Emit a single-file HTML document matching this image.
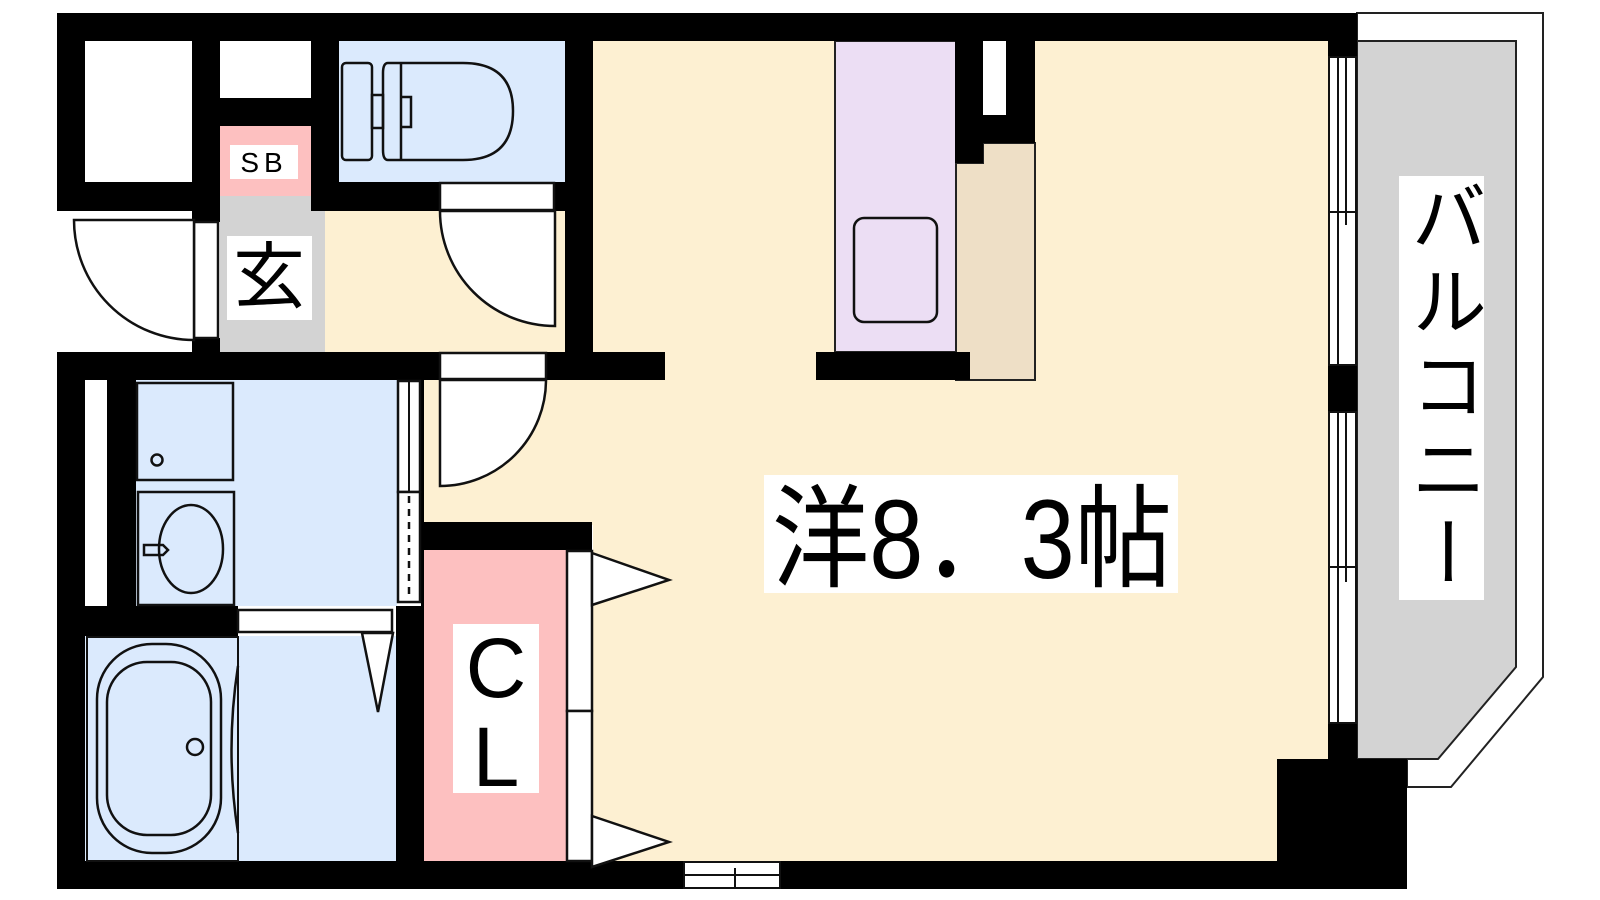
<!DOCTYPE html>
<html><head><meta charset="utf-8"><style>
html,body{margin:0;padding:0;background:#fff;width:1600px;height:900px;overflow:hidden}
svg{position:absolute;left:0;top:0}
.vt{position:absolute;left:1399px;top:176px;width:85px;height:424px;background:#fff;writing-mode:vertical-rl;font-family:"Liberation Sans","Noto Sans CJK JP",sans-serif;font-size:76px;line-height:85px;text-align:center;letter-spacing:8px;color:#000;display:flex;align-items:center;justify-content:center}
</style></head><body>
<svg width="1600" height="900" viewBox="0 0 1600 900" xmlns="http://www.w3.org/2000/svg" font-family="Liberation Sans, Noto Sans CJK JP, sans-serif">
<!-- balcony -->
<polygon points="1357,13 1543,13 1543,677 1451,787 1407,787 1407,759 1357,759" fill="#fff" stroke="#222" stroke-width="2"/>
<polygon points="1357,41 1516,41 1516,667 1438,759 1357,759" fill="#d3d3d3" stroke="#222" stroke-width="2"/>
<!-- floors -->
<rect x="593" y="41" width="735" height="820" fill="#fdf0d2"/>
<rect x="421" y="380" width="175" height="145" fill="#fdf0d2"/>
<rect x="325" y="211" width="240" height="141" fill="#fdf0d2"/>
<rect x="339" y="41" width="226" height="141" fill="#dbeafd"/>
<rect x="220" y="196" width="105" height="156" fill="#d3d3d3"/>
<rect x="220" y="126" width="91" height="70" fill="#fdc0c0"/>
<rect x="136" y="380" width="261" height="226" fill="#dbeafd"/>
<rect x="85" y="636" width="311" height="225" fill="#dbeafd"/>
<rect x="424" y="550" width="142" height="311" fill="#fdc0c0"/>
<rect x="835" y="41" width="121" height="311" fill="#ecdef4" stroke="#222" stroke-width="2"/>
<polygon points="956,163 983,163 983,143 1035,143 1035,380 956,380" fill="#eedfc6" stroke="#222" stroke-width="2"/>
<rect x="854" y="218" width="83" height="104" rx="10" fill="none" stroke="#111" stroke-width="2.5"/>
<!-- walls -->
<g fill="#000">
<rect x="57" y="13" width="1300" height="28"/>
<rect x="57" y="13" width="28" height="198"/>
<rect x="57" y="182" width="135" height="29"/>
<rect x="192" y="13" width="28" height="209"/>
<rect x="192" y="338" width="28" height="14"/>
<rect x="220" y="98" width="91" height="28"/>
<rect x="311" y="13" width="28" height="198"/>
<rect x="311" y="182" width="129" height="29"/>
<rect x="554" y="182" width="11" height="29"/>
<rect x="565" y="13" width="28" height="367"/>
<rect x="57" y="352" width="383" height="28"/>
<rect x="546" y="352" width="119" height="28"/>
<rect x="816" y="352" width="154" height="28"/>
<rect x="955" y="41" width="28" height="122"/>
<rect x="983" y="115" width="23" height="28"/>
<rect x="1006" y="41" width="29" height="102"/>
<rect x="57" y="352" width="28" height="537"/>
<rect x="107" y="380" width="29" height="226"/>
<rect x="57" y="606" width="181" height="30"/>
<rect x="396" y="606" width="28" height="283"/>
<rect x="421" y="380" width="3" height="226"/>
<rect x="424" y="522" width="168" height="28"/>
<rect x="57" y="861" width="1350" height="28"/>
<rect x="1277" y="759" width="130" height="130"/>
<rect x="1328" y="41" width="29" height="16"/>
<rect x="1328" y="365" width="29" height="47"/>
<rect x="1328" y="723" width="29" height="36"/>
</g>
<!-- white voids -->
<rect x="85" y="41" width="107" height="141" fill="#fff"/>
<rect x="220" y="41" width="91" height="57" fill="#fff"/>
<rect x="983" y="41" width="23" height="74" fill="#fff"/>
<rect x="85" y="380" width="22" height="226" fill="#fff"/>
<!-- windows right -->
<g stroke="#111" stroke-width="2" fill="#fff">
<rect x="1329" y="57" width="27" height="308"/>
<rect x="1329" y="412" width="27" height="311"/>
</g>
<g stroke="#111" stroke-width="2">
<line x1="1338" y1="57" x2="1338" y2="365"/><line x1="1346" y1="57" x2="1346" y2="225"/>
<line x1="1338" y1="412" x2="1338" y2="723"/><line x1="1346" y1="412" x2="1346" y2="582"/>
<line x1="1329" y1="212" x2="1356" y2="212"/><line x1="1329" y1="567" x2="1356" y2="567"/>
</g>
<!-- bottom window -->
<rect x="684" y="862" width="96" height="26" fill="#fff" stroke="#111" stroke-width="2"/>
<line x1="684" y1="875" x2="780" y2="875" stroke="#111" stroke-width="2"/>
<line x1="735" y1="868" x2="735" y2="888" stroke="#111" stroke-width="2"/>
<!-- doors -->
<g fill="#fff" stroke="#111" stroke-width="2.5">
<rect x="194" y="222" width="24" height="116"/>
<path d="M74,220 L194,220 L194,340 A120,120 0 0 1 74,220 Z"/>
<rect x="440" y="183" width="114" height="27"/>
<path d="M440,211 L555,211 L555,326 A115,115 0 0 1 440,211 Z"/>
<rect x="440" y="353" width="106" height="26"/>
<path d="M440,380 L546,380 A106,106 0 0 1 440,486 Z"/>
<rect x="398" y="381" width="22" height="111"/>
<rect x="398" y="492" width="22" height="110"/>
<rect x="238" y="610" width="154" height="22"/>
<rect x="567" y="551" width="25" height="160"/>
<rect x="567" y="711" width="25" height="150"/>
<polygon points="592,553 669,580 592,605"/>
<polygon points="592,816 669,842 592,867"/>
<polygon points="362,633 393,633 378,712"/>
</g>
<line x1="409" y1="382" x2="409" y2="492" stroke="#111" stroke-width="2"/>
<line x1="409" y1="496" x2="409" y2="600" stroke="#111" stroke-width="2.5" stroke-dasharray="7,6"/>
<!-- toilet -->
<g fill="none" stroke="#111" stroke-width="2.5">
<rect x="342" y="63" width="30" height="97" rx="4"/>
<rect x="372" y="95" width="11" height="33"/>
<path d="M388,63 H463 Q513,63 513,111 Q513,160 463,160 H388 Q383,160 383,150 V73 Q383,63 388,63 Z"/>
<line x1="401" y1="63" x2="401" y2="160"/>
<path d="M401,97 H411 V127 H401"/>
</g>
<!-- laundry / sink -->
<g fill="none" stroke="#111" stroke-width="2.5">
<rect x="137" y="383" width="96" height="97"/>
<circle cx="157" cy="460" r="5.5"/>
<rect x="138" y="492" width="96" height="113"/>
<ellipse cx="191" cy="549" rx="32" ry="44"/>
<path d="M144,545 H163 L168,550 L163,555 H144 Z"/>
</g>
<!-- bath -->
<g fill="none" stroke="#111" stroke-width="2.5">
<rect x="87" y="637" width="151" height="224" stroke-width="2"/>
<rect x="97" y="644" width="124" height="209" rx="55"/>
<rect x="107" y="662" width="104" height="173" rx="40"/>
<circle cx="195" cy="747" r="8"/>
<path d="M238,666 Q225,750 238,833"/>
</g>
<!-- labels -->
<rect x="230" y="145" width="68" height="34" fill="#fff"/>
<text x="264" y="172" font-size="28" text-anchor="middle" letter-spacing="5">SB</text>
<rect x="227" y="236" width="85" height="84" fill="#fff"/>
<text x="269" y="302" font-size="72" text-anchor="middle" font-family="Noto Sans CJK JP, sans-serif">玄</text>
<rect x="453" y="624" width="86" height="169" fill="#fff"/>
<text x="496" y="697" font-size="84" text-anchor="middle">C</text>
<text x="496" y="786" font-size="84" text-anchor="middle">L</text>
<rect x="764" y="475" width="414" height="118" fill="#fff"/>
<text x="772" y="578" font-size="112" textLength="400" lengthAdjust="spacingAndGlyphs" font-family="Liberation Sans, Noto Sans CJK JP, sans-serif">洋8．3帖</text>
</svg>
<div class="vt">バルコニー</div>
</body></html>
